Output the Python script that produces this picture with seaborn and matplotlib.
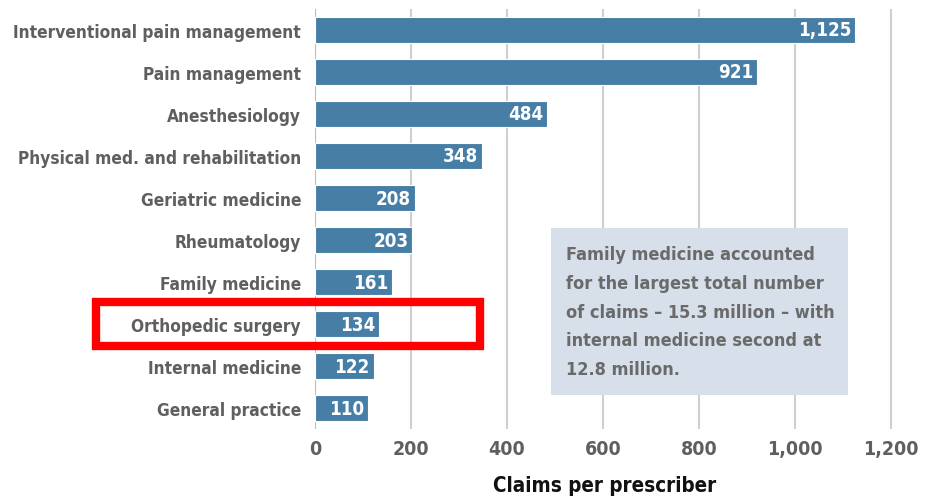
import matplotlib
matplotlib.use("Agg")
import matplotlib.pyplot as plt
from matplotlib import font_manager as fm
import matplotlib.patches as mpatches
import pandas as pd
import seaborn as sns

# ─── Data ────────────────────────────────────────────────────────────────────
specialties = [
    "Interventional pain management",
    "Pain management",
    "Anesthesiology",
    "Physical med. and rehabilitation",
    "Geriatric medicine",
    "Rheumatology",
    "Family medicine",
    "Orthopedic surgery",
    "Internal medicine",
    "General practice",
]
claims = [1125, 921, 484, 348, 208, 203, 161, 134, 122, 110]
x_ticks = [0, 200, 400, 600, 800, 1000, 1200]
highlight = "Orthopedic surgery"
note = ("Family medicine accounted\n"
        "for the largest total number\n"
        "of claims \u2013 15.3 million \u2013 with\n"
        "internal medicine second at\n"
        "12.8 million.")

BAR = "#467ea6"
GREY = "#5f5f5f"

# look for a narrow face, otherwise Liberation Sans
narrow = [f.name for f in fm.fontManager.ttflist
          if "narrow" in f.name.lower() or "condensed" in f.name.lower()
          or "condensed" in str(f.stretch).lower()]
family = narrow[0] if narrow else "Liberation Sans"
cond = bool(narrow)

sns.set_style("white")
plt.rcParams["font.family"] = [family, "DejaVu Sans"]
plt.rcParams["font.weight"] = "bold"
if cond:
    plt.rcParams["font.stretch"] = "condensed"

sz_lab = 12.4 if cond else 11
sz_tick = 14 if cond else 12.5
sz_val = 13.5 if cond else 12
sz_note = 13 if cond else 11.5
sz_xlab = 14.8 if cond else 13

df = pd.DataFrame({"specialty": specialties, "claims": claims})

fig = plt.figure(figsize=(9.28, 5.02), dpi=100)
ax = fig.add_axes([0.3394, 0.1434, 0.6466, 0.8367])

sns.barplot(data=df, y="specialty", x="claims", orient="h", color=BAR,
            saturation=1, width=0.62, edgecolor="white", linewidth=0.8,
            ax=ax, zorder=3)

ax.set_xlim(0, 1250)
ax.set_ylim(9.5, -0.5)
ax.set_xticks(x_ticks)
ax.set_xticklabels([f"{t:,}" for t in x_ticks], fontsize=sz_tick, color=GREY)
ax.tick_params(axis="y", labelsize=sz_lab, labelcolor=GREY, length=0, pad=10)
ax.tick_params(axis="x", length=0, pad=7)
for lab in ax.get_yticklabels() + ax.get_xticklabels():
    lab.set_fontweight("bold")

ax.grid(axis="x", color="#cfcfcf", linewidth=1.5, zorder=0)
ax.set_axisbelow(True)
for s in ax.spines.values():
    s.set_visible(False)
ax.axvline(0, color="#bdbdbd", linewidth=1.5, zorder=1)

ax.set_ylabel("")
ax.set_xlabel("Claims per prescriber", fontsize=sz_xlab, fontweight="bold",
              color="#111111")
ax.xaxis.set_label_coords(0.483, -0.11)

# value labels inside bar ends
for i, v in enumerate(claims):
    ax.text(v - 8, i, f"{v:,}", ha="right", va="center", color="white",
            fontsize=sz_val, fontweight="bold", zorder=4)

# note box
ax.add_patch(mpatches.Rectangle((0.393, 0.081), 0.496, 0.398,
                                transform=ax.transAxes, facecolor="#d6dfea",
                                edgecolor="none", zorder=5))
ax.text(0.418, 0.437, note, transform=ax.transAxes, ha="left", va="top",
        fontsize=sz_note, fontweight="bold", color="#6a6a6a",
        linespacing=1.76, zorder=6)

# red highlight frame around Orthopedic surgery
idx = specialties.index(highlight)
y_disp = ax.transData.transform((0, idx))[1]
h = 44 / 502
y0 = y_disp / 502 - h / 2
fig.patches.append(mpatches.Rectangle((96 / 928, y0), 384 / 928, h,
                                      transform=fig.transFigure,
                                      fill=False, edgecolor="#ff0000",
                                      linewidth=6, zorder=10))

fig.savefig("out.png", dpi=100)
